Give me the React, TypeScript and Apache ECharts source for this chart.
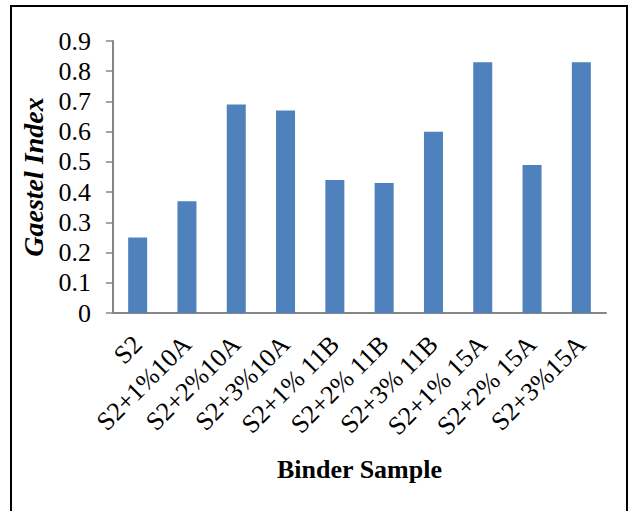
import React, { useEffect, useRef } from "react";
import * as echarts from "echarts";

const categories = [
  "S2",
  "S2+1%10A",
  "S2+2%10A",
  "S2+3%10A",
  "S2+1% 11B",
  "S2+2% 11B",
  "S2+3% 11B",
  "S2+1% 15A",
  "S2+2% 15A",
  "S2+3%15A",
];
const gaestelIndex = [0.25, 0.37, 0.69, 0.67, 0.44, 0.43, 0.6, 0.83, 0.49, 0.83];
const yTicks = [0, 0.1, 0.2, 0.3, 0.4, 0.5, 0.6, 0.7, 0.8, 0.9];

const SERIF = "'Liberation Serif', 'Times New Roman', serif";

export default function App() {
  const ref = useRef<HTMLDivElement>(null);

  useEffect(() => {
    document.body.style.margin = "0";
    if (!ref.current) return;
    const chart = echarts.init(ref.current, null, { renderer: "svg" });
    chart.setOption({
      animation: false,
      backgroundColor: "#ffffff",
      grid: { left: 113, right: 24, top: 41, bottom: 198 },
      graphic: [
        {
          type: "rect",
          shape: { x: 11, y: 6, width: 616, height: 520 },
          style: { fill: "none", stroke: "#000000", lineWidth: 2 },
          silent: true,
        },
      ],
      xAxis: {
        type: "category",
        data: categories,
        name: "Binder Sample",
        nameLocation: "middle",
        nameGap: 143,
        nameTextStyle: {
          fontFamily: SERIF,
          fontWeight: "bold",
          fontSize: 26,
          color: "#000000",
        },
        axisLine: { lineStyle: { color: "#868686", width: 2 } },
        axisTick: { show: false },
        axisLabel: {
          rotate: 45,
          interval: 0,
          margin: 27,
          fontFamily: SERIF,
          fontSize: 26,
          color: "#000000",
        },
      },
      yAxis: {
        type: "value",
        min: 0,
        max: 0.9,
        interval: 0.1,
        name: "Gaestel Index",
        nameLocation: "middle",
        nameRotate: 90,
        nameGap: 66,
        nameTextStyle: {
          fontFamily: SERIF,
          fontWeight: "bold",
          fontStyle: "italic",
          fontSize: 28,
          color: "#000000",
        },
        splitLine: { show: false },
        axisLine: { show: true, lineStyle: { color: "#868686", width: 2 } },
        axisTick: { show: true, length: 7, lineStyle: { color: "#868686", width: 1.5 } },
        axisLabel: {
          margin: 22,
          fontFamily: SERIF,
          fontSize: 26,
          color: "#000000",
          formatter: (v: number) => {
            const t = yTicks.find((y) => Math.abs(y - v) < 1e-9);
            return t === 0 ? "0" : String(t ?? v);
          },
        },
      },
      series: [
        {
          type: "bar",
          data: gaestelIndex,
          barWidth: 19,
          itemStyle: { color: "#4F81BD" },
        },
      ],
    });
    return () => chart.dispose();
  }, []);

  return (
    <div
      ref={ref}
      style={{ position: "fixed", left: 0, top: 0, width: 630, height: 511 }}
    />
  );
}
